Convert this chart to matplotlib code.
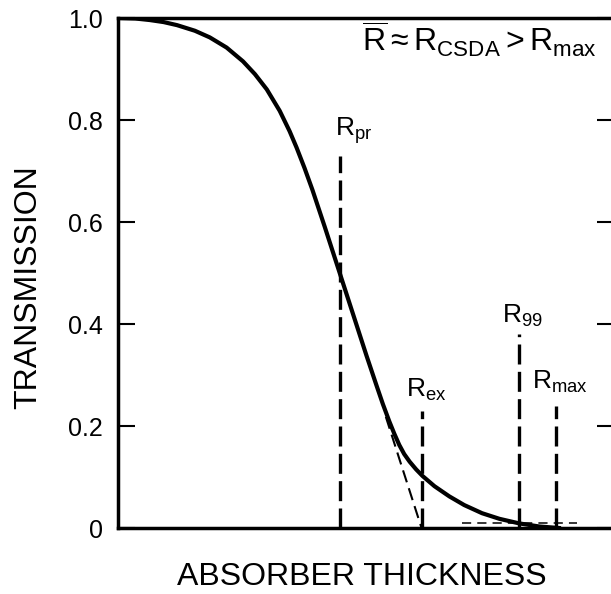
import matplotlib.pyplot as plt

plt.rcParams['font.family'] = 'Liberation Sans'
plt.rcParams['mathtext.fontset'] = 'custom'
plt.rcParams['mathtext.rm'] = 'Liberation Sans'
plt.rcParams['mathtext.it'] = 'Liberation Sans:italic'

# transmission vs absorber thickness (arbitrary thickness units, 0-10 across the frame)
thickness = [0.00, 0.35, 0.64, 0.92, 1.19, 1.55, 1.85, 2.19, 2.52, 2.76,
             3.00, 3.26, 3.46, 3.60, 3.76, 3.92, 4.17, 4.47, 4.77, 5.01,
             5.21, 5.34, 5.47, 5.57, 5.67, 5.77, 5.88, 6.01, 6.14, 6.38,
             6.68, 6.98, 7.34, 7.69, 8.09, 8.49, 8.89]
transmission = [1.000, 0.999, 0.996, 0.992, 0.986, 0.975, 0.962, 0.942, 0.915, 0.890,
                0.860, 0.818, 0.778, 0.746, 0.706, 0.663, 0.590, 0.500, 0.410, 0.338,
                0.280, 0.243, 0.209, 0.185, 0.163, 0.145, 0.130, 0.115, 0.102, 0.082,
                0.062, 0.045, 0.029, 0.018, 0.009, 0.003, 0.000]

# range definitions: position on the thickness axis and height of the marker line
range_names = ['pr', 'ex', '99', 'max']
range_pos = [4.47, 6.12, 8.09, 8.83]
range_top = [0.73, 0.23, 0.38, 0.24]
# label anchor (left edge, baseline of the R)
label_x = [4.37, 5.81, 7.75, 8.35]
label_y = [0.77, 0.257, 0.402, 0.272]

# linear extrapolation of the steep part down to zero -> R_ex
tangent_x = [5.40, 6.12]
tangent_y = [0.218, 0.0]

# background level in the tail
tail_x = [6.94, 9.26]
tail_y = [0.010, 0.010]

yticks = [0, 0.2, 0.4, 0.6, 0.8, 1.0]
yticklabels = ['0', '0.2', '0.4', '0.6', '0.8', '1.0']

fig = plt.figure(figsize=(6.11, 5.94), dpi=100)
ax = fig.add_axes([118 / 611, 66 / 594, 496 / 611, 510 / 594])

ax.plot(thickness, transmission, color='black', lw=3, solid_joinstyle='round')
for x, top in zip(range_pos, range_top):
    ax.plot([x, x], [0, top], color='black', lw=2.4, dashes=(6, 2.2))
ax.plot(tangent_x, tangent_y, color='black', lw=1.5, dashes=(6, 3))
ax.plot(tail_x, tail_y, color='black', lw=1.1, dashes=(6, 4))

for name, x, y in zip(range_names, label_x, label_y):
    ax.text(x, y, r'$\mathrm{R}_{\mathrm{%s}}$' % name, fontsize=19,
            ha='left', va='baseline')

ax.text(4.91, 0.933,
        r'$\overline{\mathrm{R}}\approx\mathrm{R}_{\mathrm{CSDA}}>\mathrm{R}_{\mathrm{max}}$',
        fontsize=23, ha='left', va='baseline')

ax.set_xlim(0, 10)
ax.set_ylim(0, 1.0)
ax.set_xticks([])
ax.set_yticks(yticks)
ax.set_yticklabels(yticklabels)
ax.tick_params(axis='y', which='both', direction='in', length=12, width=1.5,
               labelsize=18, pad=11, right=True)
for s in ax.spines.values():
    s.set_linewidth(2.5)

fig.text(362 / 611, 1 - 577 / 594, 'ABSORBER THICKNESS', fontsize=23,
         ha='center', va='center')
fig.text(28 / 611, 1 - 287 / 594, 'TRANSMISSION', fontsize=23, rotation=90,
         ha='center', va='center')

fig.savefig('out.png', dpi=100)
